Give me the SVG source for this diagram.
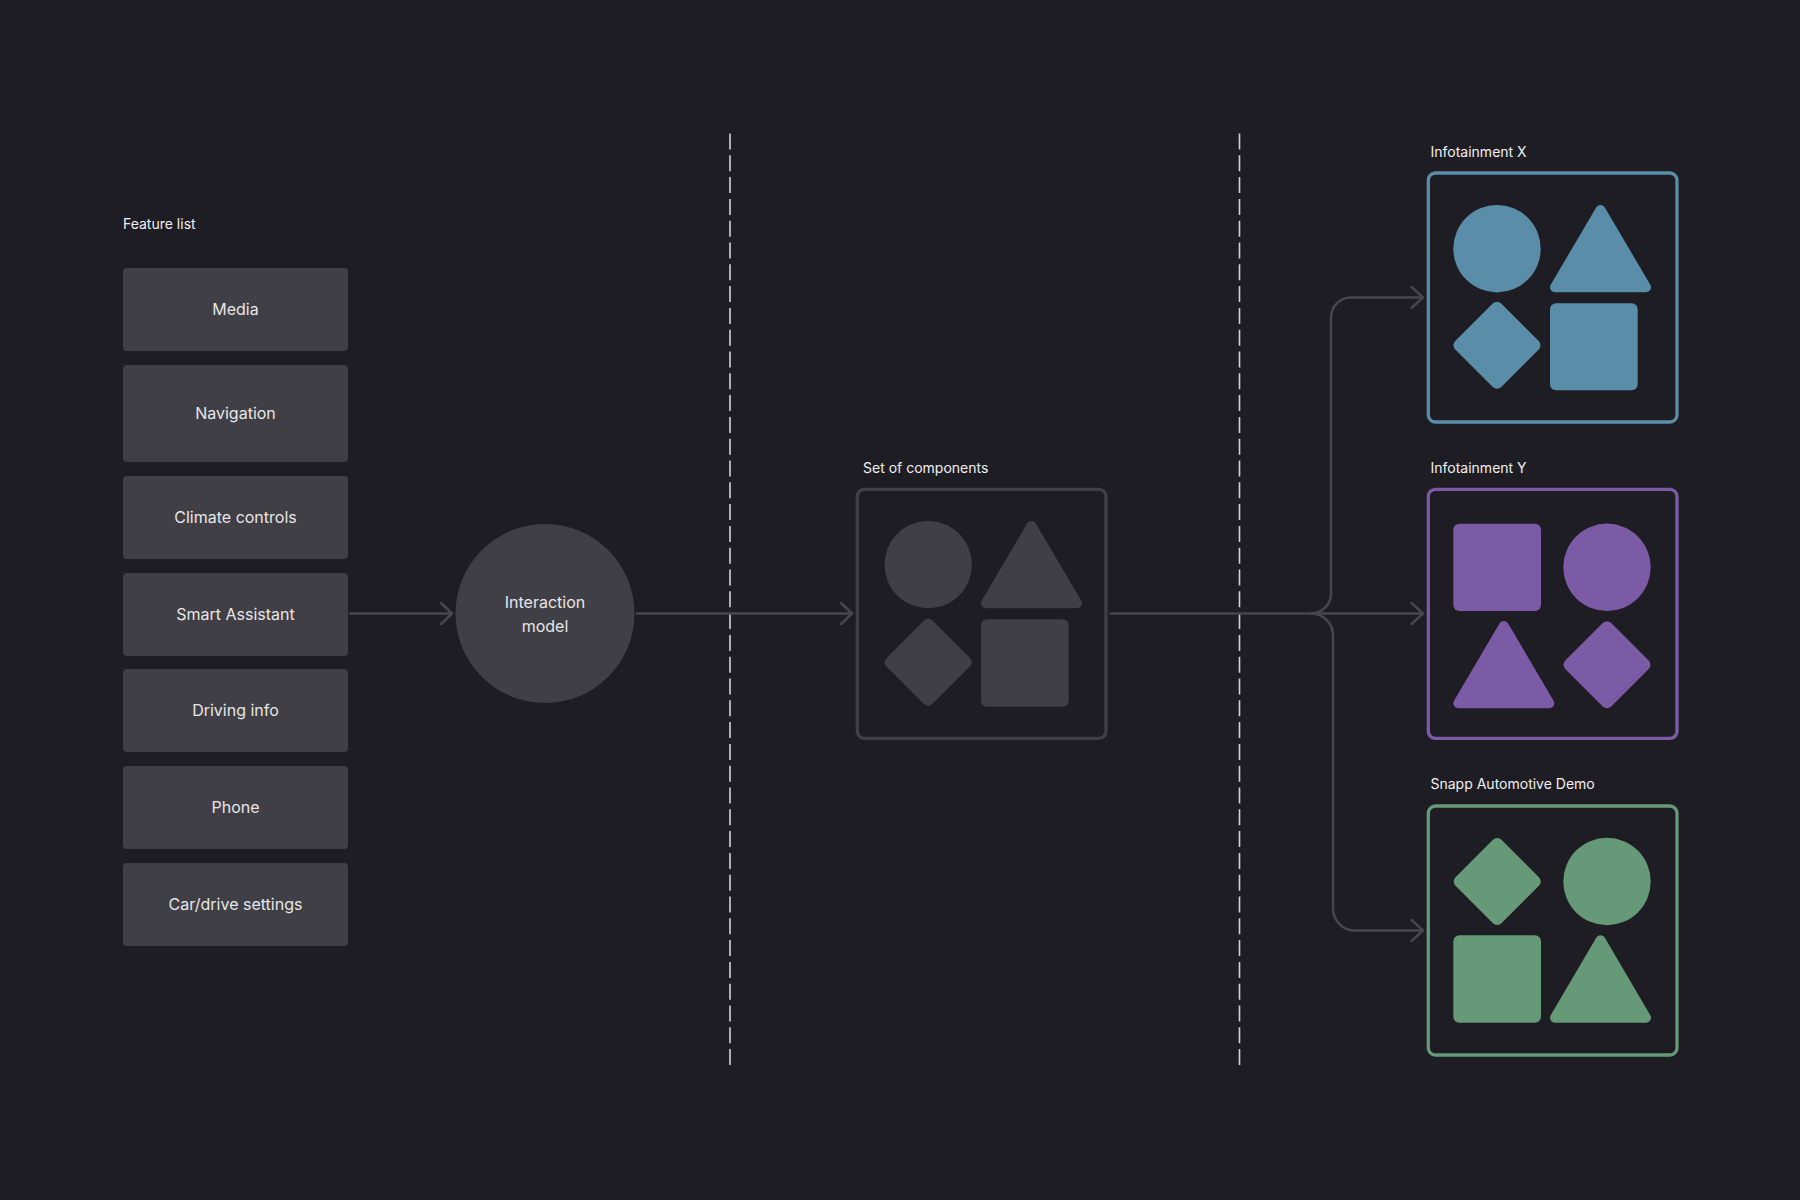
<svg xmlns="http://www.w3.org/2000/svg" xmlns:xlink="http://www.w3.org/1999/xlink" width="1800" height="1200" viewBox="0 0 1800 1200">
  <style>
    .bg { fill: #1e1d23; }
    .feat { fill: #403f45; }
    .ftxt { font-family: Inter, "Liberation Sans", sans-serif; font-size: 16px; fill: #e6e6e8; text-anchor: middle; }
    .lbl { font-family: Inter, "Liberation Sans", sans-serif; font-size: 14px; fill: #f0f0f2; }
    .conn { fill: none; stroke: #47464c; stroke-width: 2.5; stroke-linecap: round; stroke-linejoin: round; }
    .dash { fill: none; stroke: #d2d2d6; stroke-width: 1.6; stroke-dasharray: 16 5.8; }
    .frame { fill: none; stroke-width: 3.3; }
    .gray { fill: #403f45; }
    .blue { fill: #5a8ea8; }
    .purple { fill: #7b5aa6; }
    .green { fill: #669978; }
    .tri-gray { fill: #403f45; stroke: #403f45; stroke-width: 10; stroke-linejoin: round; }
    .tri-blue { fill: #5a8ea8; stroke: #5a8ea8; stroke-width: 10; stroke-linejoin: round; }
    .tri-purple { fill: #7b5aa6; stroke: #7b5aa6; stroke-width: 10; stroke-linejoin: round; }
    .tri-green { fill: #669978; stroke: #669978; stroke-width: 10; stroke-linejoin: round; }
  </style>
  <defs>
    <rect id="dia" x="-32.5" y="-32.5" width="65" height="65" rx="6" transform="rotate(45)"/>
  </defs>

  <rect class="bg" x="0" y="0" width="1800" height="1200"/>

  <!-- dashed separators -->
  <g id="separators">
    <line class="dash" x1="730" y1="133.5" x2="730" y2="1066.5"/>
    <line class="dash" x1="1239.5" y1="133.5" x2="1239.5" y2="1066.5"/>
  </g>

  <!-- feature list -->
  <g id="feature-list">
    <text class="lbl" x="123" y="228.5">Feature list</text>
    <g id="node-media">
      <rect class="feat" x="123" y="268" width="225" height="83" rx="4"/>
      <text class="ftxt" x="235.5" y="314.5">Media</text>
    </g>
    <g id="node-navigation">
      <rect class="feat" x="123" y="365" width="225" height="97" rx="4"/>
      <text class="ftxt" x="235.5" y="418.5">Navigation</text>
    </g>
    <g id="node-climate">
      <rect class="feat" x="123" y="476" width="225" height="83" rx="4"/>
      <text class="ftxt" x="235.5" y="522.5">Climate controls</text>
    </g>
    <g id="node-smart">
      <rect class="feat" x="123" y="573" width="225" height="83" rx="4"/>
      <text class="ftxt" x="235.5" y="619.5">Smart Assistant</text>
    </g>
    <g id="node-driving">
      <rect class="feat" x="123" y="669" width="225" height="83" rx="4"/>
      <text class="ftxt" x="235.5" y="715.5">Driving info</text>
    </g>
    <g id="node-phone">
      <rect class="feat" x="123" y="766" width="225" height="83" rx="4"/>
      <text class="ftxt" x="235.5" y="812.5">Phone</text>
    </g>
    <g id="node-car">
      <rect class="feat" x="123" y="863" width="225" height="83" rx="4"/>
      <text class="ftxt" x="235.5" y="909.5">Car/drive settings</text>
    </g>
  </g>

  <!-- interaction model -->
  <g id="node-interaction">
    <circle class="feat" cx="545" cy="613.5" r="89.5"/>
    <text class="ftxt" x="545" y="607.5">Interaction</text>
    <text class="ftxt" x="545" y="631.5">model</text>
  </g>

  <!-- connectors -->
  <g id="connectors">
    <path class="conn" d="M350,613.5 H452"/>
    <path class="conn" d="M441,603 L452,613.5 L441,624"/>
    <path class="conn" d="M637,613.5 H852"/>
    <path class="conn" d="M841,603 L852,613.5 L841,624"/>
    <path class="conn" d="M1110.5,613.5 H1423"/>
    <path class="conn" d="M1411.5,603 L1423,613.5 L1411.5,624"/>
    <path class="conn" d="M1311,613.5 A20,20 0 0 0 1331,593.5 V317.5 A20,20 0 0 1 1351,297.5 H1423"/>
    <path class="conn" d="M1411.5,287 L1423,297.5 L1411.5,308"/>
    <path class="conn" d="M1311,613.5 A22,22 0 0 1 1333,635.5 V908.5 A22,22 0 0 0 1355,930.5 H1423"/>
    <path class="conn" d="M1411.5,920 L1423,930.5 L1411.5,941"/>
  </g>

  <!-- set of components -->
  <g id="node-components">
    <text class="lbl" x="863" y="473">Set of components</text>
    <rect class="frame" x="857.3" y="489.3" width="248.7" height="249" rx="7" stroke="#403f45"/>
    <circle class="gray" cx="928.2" cy="564.7" r="43.7"/>
    <polygon class="tri-gray" points="1031.5,526 986,603.3 1077,603.3"/>
    <use href="#dia" xlink:href="#dia" class="gray" x="928.2" y="662.2"/>
    <rect class="gray" x="981" y="619.3" width="87.7" height="87.4" rx="6"/>
  </g>

  <!-- Infotainment X -->
  <g id="node-infotainment-x">
    <text class="lbl" x="1430.5" y="156.5">Infotainment X</text>
    <rect class="frame" x="1428.3" y="173" width="248.7" height="249" rx="7" stroke="#5a8ea8"/>
    <circle class="blue" cx="1497" cy="248.7" r="43.7"/>
    <polygon class="tri-blue" points="1600.5,210 1555,287.3 1646,287.3"/>
    <use href="#dia" xlink:href="#dia" class="blue" x="1497" y="345.3"/>
    <rect class="blue" x="1550" y="303.3" width="87.7" height="87" rx="6"/>
  </g>

  <!-- Infotainment Y -->
  <g id="node-infotainment-y">
    <text class="lbl" x="1430.5" y="472.5">Infotainment Y</text>
    <rect class="frame" x="1428.3" y="489.3" width="248.7" height="249" rx="7" stroke="#7b5aa6"/>
    <rect class="purple" x="1453.3" y="523.7" width="87.7" height="87.3" rx="6"/>
    <circle class="purple" cx="1607" cy="567.3" r="43.7"/>
    <polygon class="tri-purple" points="1503.8,626 1458.3,703.3 1549.3,703.3"/>
    <use href="#dia" xlink:href="#dia" class="purple" x="1607" y="664.7"/>
  </g>

  <!-- Snapp Automotive Demo -->
  <g id="node-snapp">
    <text class="lbl" x="1430.5" y="789">Snapp Automotive Demo</text>
    <rect class="frame" x="1428.3" y="806" width="248.7" height="249" rx="7" stroke="#669978"/>
    <use href="#dia" xlink:href="#dia" class="green" x="1497.2" y="881.5"/>
    <circle class="green" cx="1607" cy="881.5" r="43.7"/>
    <rect class="green" x="1453.3" y="935.3" width="87.7" height="87.4" rx="6"/>
    <polygon class="tri-green" points="1600.5,940.3 1555,1017.7 1646,1017.7"/>
  </g>
</svg>
